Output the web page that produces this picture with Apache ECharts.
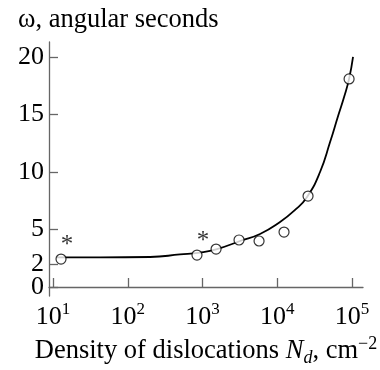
<!DOCTYPE html>
<html><head><meta charset="utf-8">
<script src="https://cdn.jsdelivr.net/npm/echarts@6/dist/echarts.min.js"></script>
<style>html,body{margin:0;padding:0;background:#fff}#c{width:380px;height:370px}</style>
</head><body><div id="c"></div>
<script>
// Measured points (open circles)
const pointsN = [12.8, 843, 1517, 3076, 5700, 12300, 25770, 91200];
const pointsW = [2.43, 2.78, 3.30, 4.09, 4.00, 4.78, 7.91, 18.09];
const starred = [0, 1];
// Fitted curve
const curveN = [11.3, 42.6, 198.5, 500, 926, 1563, 3175, 5875, 10880, 17280, 25000, 37300, 50800, 65000, 78200, 91200, 103000];
const curveW = [2.57, 2.57, 2.61, 2.83, 3.0, 3.30, 4.0, 4.61, 5.65, 6.70, 7.83, 10.0, 12.6, 14.87, 16.52, 18.09, 20.0];
// Tick values
const xTicks = [10, 100, 1000, 10000, 100000];
const yTicks = [0, 2, 5, 10, 15, 20];
const yTicksUpper = [2, 5, 10, 15, 20];
const yTicksLower = [0];

const FONT = 'Liberation Serif';
const axisColor = '#666';
const Y_MIN = -0.78, Y_MAX = 21.3;

const yLabelStyle = {margin: 5, color: '#000', fontFamily: FONT, fontSize: 26,
  showMinLabel: true, showMaxLabel: true, hideOverlap: false};

const chart = echarts.init(document.getElementById('c'), null, {renderer: 'canvas'});
chart.setOption({
  animation: false,
  backgroundColor: '#fff',
  title: {
    text: 'ω, angular seconds',
    left: 13, top: 2,
    textStyle: {fontFamily: FONT, fontSize: 26.5, fontWeight: 'normal', color: '#000'}
  },
  grid: {left: 49, right: 17, top: 42, bottom: 74, containLabel: false, outerBoundsMode: 'none'},
  xAxis: {
    type: 'log', logBase: 10, min: 8.84, max: 140000,
    axisLine: {show: true, lineStyle: {color: axisColor, width: 1.3}},
    axisTick: {show: true, inside: true, length: 9, customValues: xTicks, lineStyle: {color: axisColor, width: 1.3}},
    splitLine: {show: false},
    axisLabel: {
      customValues: xTicks, margin: 5, color: '#000', showMinLabel: true, showMaxLabel: true,
      fontFamily: FONT, fontSize: 26,
      formatter: v => '{b|10}{s|' + Math.round(Math.log10(v)) + '}',
      rich: {
        b: {fontFamily: FONT, fontSize: 26, color: '#000'},
        s: {fontFamily: FONT, fontSize: 17, color: '#000', verticalAlign: 'top', padding: [0, 0, 15, 0]}
      }
    },
    name: 'Density of dislocations {i|N}{sub|d}, cm{sup|−2}',
    nameLocation: 'middle', nameGap: 37,
    nameTextStyle: {
      fontFamily: FONT, fontSize: 26.5, color: '#000',
      rich: {
        i: {fontFamily: FONT, fontSize: 26.5, fontStyle: 'italic', color: '#000'},
        sub: {fontFamily: FONT, fontSize: 18, fontStyle: 'italic', color: '#000', verticalAlign: 'bottom', padding: [14, 0, 0, 0]},
        sup: {fontFamily: FONT, fontSize: 18, color: '#000', verticalAlign: 'top', padding: [0, 0, 14, 0]}
      }
    }
  },
  yAxis: [
    {
      type: 'value', min: Y_MIN, max: Y_MAX, position: 'left',
      axisLine: {show: true, lineStyle: {color: axisColor, width: 1.3}},
      axisTick: {show: true, inside: true, length: 9, customValues: yTicks, lineStyle: {color: axisColor, width: 1.3}},
      splitLine: {show: false},
      axisLabel: Object.assign({customValues: yTicksUpper}, yLabelStyle)
    },
    {
      type: 'value', min: Y_MIN, max: Y_MAX, position: 'left', offset: 0,
      axisLine: {show: false}, axisTick: {show: false}, splitLine: {show: false},
      axisLabel: Object.assign({customValues: yTicksLower}, yLabelStyle)
    }
  ],
  series: [
    {
      type: 'line', smooth: 0.5, showSymbol: false, silent: true, z: 2,
      lineStyle: {color: '#000', width: 1.8},
      data: curveN.map((n, i) => [n, curveW[i]])
    },
    {
      type: 'scatter', symbol: 'circle', symbolSize: 10, silent: true, z: 3,
      itemStyle: {color: '#fff', borderColor: '#000', borderWidth: 1.2},
      data: pointsN.map((n, i) => {
        const item = {value: [n, pointsW[i]]};
        if (starred.includes(i)) {
          item.label = {show: true, formatter: '*', position: 'top', distance: 2, offset: [6, 6],
            fontFamily: FONT, fontSize: 25, color: '#000'};
        }
        return item;
      })
    }
  ]
});
</script></body></html>
